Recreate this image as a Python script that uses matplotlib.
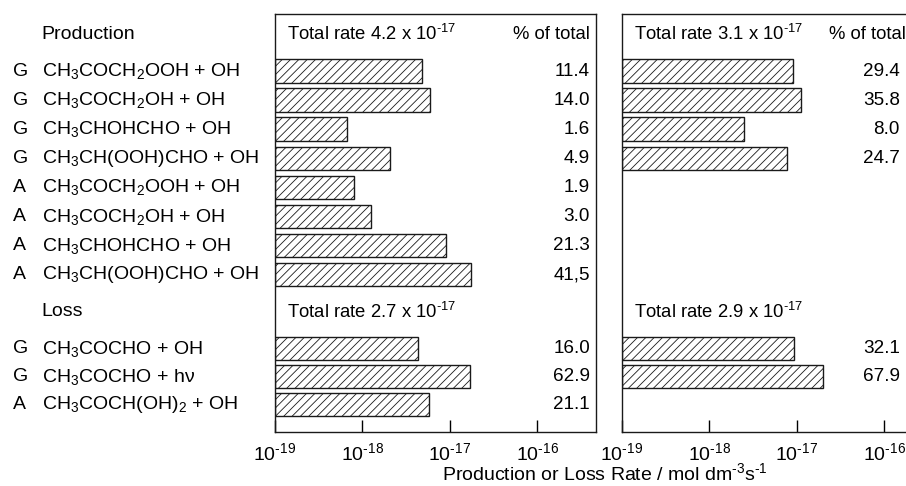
import numpy as np
import matplotlib
matplotlib.use('Agg')
import matplotlib.pyplot as plt
from matplotlib import transforms
from matplotlib.ticker import FuncFormatter, NullLocator

plt.rcParams['font.family'] = ['Liberation Sans', 'DejaVu Sans']
plt.rcParams['mathtext.fontset'] = 'custom'
plt.rcParams['mathtext.rm'] = 'Liberation Sans'
plt.rcParams['mathtext.it'] = 'Liberation Sans:italic'
plt.rcParams['mathtext.default'] = 'regular'
plt.rcParams['hatch.linewidth'] = 0.6
plt.rcParams['font.size'] = 14

# --- data ---
prod_phase = ['G', 'G', 'G', 'G', 'A', 'A', 'A', 'A']
prod_names = ['CH$_3$COCH$_2$OOH + OH', 'CH$_3$COCH$_2$OH + OH', 'CH$_3$CHOHCHO + OH',
              'CH$_3$CH(OOH)CHO + OH', 'CH$_3$COCH$_2$OOH + OH', 'CH$_3$COCH$_2$OH + OH',
              'CH$_3$CHOHCHO + OH', 'CH$_3$CH(OOH)CHO + OH']
loss_phase = ['G', 'G', 'A']
loss_names = ['CH$_3$COCHO + OH', 'CH$_3$COCHO + h\u03bd', 'CH$_3$COCH(OH)$_2$ + OH']

# % of total, as printed
prod_pct_left = ['11.4', '14.0', '1.6', '4.9', '1.9', '3.0', '21.3', '41,5']
loss_pct_left = ['16.0', '62.9', '21.1']
prod_pct_right = ['29.4', '35.8', '8.0', '24.7']
loss_pct_right = ['32.1', '67.9']

# total rates, mol dm-3 s-1
total_prod_left = 4.2e-17
total_loss_left = 2.7e-17
total_prod_right = 3.1e-17
total_loss_right = 2.9e-17
total_labels = {'prod_left': r'Total rate 4.2 x 10$^{\text{-}17}$',
                'loss_left': r'Total rate 2.7 x 10$^{\text{-}17}$',
                'prod_right': r'Total rate 3.1 x 10$^{\text{-}17}$',
                'loss_right': r'Total rate 2.9 x 10$^{\text{-}17}$'}

xmin, xmax = 1e-19, 10 ** -15.33
xticks = [1e-19, 1e-18, 1e-17, 1e-16]

prod_pos = np.arange(1, len(prod_names) + 1)
loss_pos = 10.54 + 0.96 * np.arange(len(loss_names))
head_prod = -0.27
head_loss = 9.27
HEAD_FS = 13.3
PCT_FS = 13.6


def to_float(s):
    return float(s.replace(',', '.'))


def pow10(v, pos):
    e = int(round(np.log10(v)))
    if e < 0:
        return r'$10^{\text{-}%d}$' % (-e)
    return r'$10^{%d}$' % e


fig = plt.figure(figsize=(9.06, 4.86), dpi=100)
W, H = 906, 486
axw = 321 / W
axb = 1 - 432 / H
axh = (432 - 14) / H
ax1 = fig.add_axes([275 / W, axb, axw, axh])
ax2 = fig.add_axes([622 / W, axb, axw, axh])


def draw_panel(ax, prod_pct, total_prod, loss_pct, total_loss, key, pct_x):
    rates_p = [to_float(p) / 100 * total_prod for p in prod_pct]
    rates_l = [to_float(p) / 100 * total_loss for p in loss_pct]
    pp = prod_pos[:len(rates_p)]
    lp = loss_pos[:len(rates_l)]
    w_p = [r - xmin for r in rates_p]
    w_l = [r - xmin for r in rates_l]
    ax.barh(pp, w_p, left=xmin, height=0.81, color='white', edgecolor='#1a1a1a',
            hatch='////', linewidth=1.0)
    ax.barh(lp, w_l, left=xmin, height=0.81, color='white', edgecolor='#1a1a1a',
            hatch='////', linewidth=1.0)
    tr = transforms.blended_transform_factory(ax.transAxes, ax.transData)
    for y, p in zip(pp, prod_pct):
        ax.text(pct_x, y, p, transform=tr, ha='right', va='center', fontsize=PCT_FS)
    for y, p in zip(lp, loss_pct):
        ax.text(pct_x, y, p, transform=tr, ha='right', va='center', fontsize=PCT_FS)
    ax.text(0.038, head_prod, total_labels['prod_' + key], transform=tr, ha='left',
            va='center', fontsize=HEAD_FS)
    ax.text(0.038, head_loss, total_labels['loss_' + key], transform=tr, ha='left',
            va='center', fontsize=HEAD_FS)
    ax.set_xscale('log')
    ax.set_xlim(xmin, xmax)
    ax.set_ylim(13.405, -0.959)
    ax.set_yticks([])
    ax.set_xticks(xticks)
    ax.xaxis.set_major_formatter(FuncFormatter(pow10))
    ax.xaxis.set_minor_locator(NullLocator())
    ax.tick_params(axis='x', direction='in', length=9, width=1, pad=7, labelsize=14)
    for s in ax.spines.values():
        s.set_linewidth(1.0)
        s.set_color('#1a1a1a')
    return tr


tr1 = draw_panel(ax1, prod_pct_left, total_prod_left, loss_pct_left, total_loss_left, 'left', 0.981)
ax1.text(0.981, head_prod, '% of total', transform=tr1, ha='right', va='center', fontsize=HEAD_FS)
tr2 = draw_panel(ax2, prod_pct_right, total_prod_right, loss_pct_right, total_loss_right, 'right', 0.866)
ax2.text(0.884, head_prod, '% of total', transform=tr2, ha='right', va='center', fontsize=HEAD_FS)

# row labels on the left
trf = transforms.blended_transform_factory(fig.transFigure, ax1.transData)
ax1.text(41.7 / W, head_prod, 'Production', transform=trf, ha='left', va='center')
ax1.text(41.7 / W, head_loss, 'Loss', transform=trf, ha='left', va='center')
for y, ph, nm in zip(prod_pos, prod_phase, prod_names):
    ax1.text(13 / W, y, ph, transform=trf, ha='left', va='center')
    ax1.text(41.7 / W, y, nm, transform=trf, ha='left', va='center')
for y, ph, nm in zip(loss_pos, loss_phase, loss_names):
    ax1.text(13 / W, y, ph, transform=trf, ha='left', va='center')
    ax1.text(41.7 / W, y, nm, transform=trf, ha='left', va='center')

fig.text(605 / W, 1 - 473 / H, r'Production or Loss Rate / mol dm$^{\text{-}3}$s$^{\text{-}1}$',
         ha='center', va='center', fontsize=14)

fig.savefig('out.png', dpi=100)
